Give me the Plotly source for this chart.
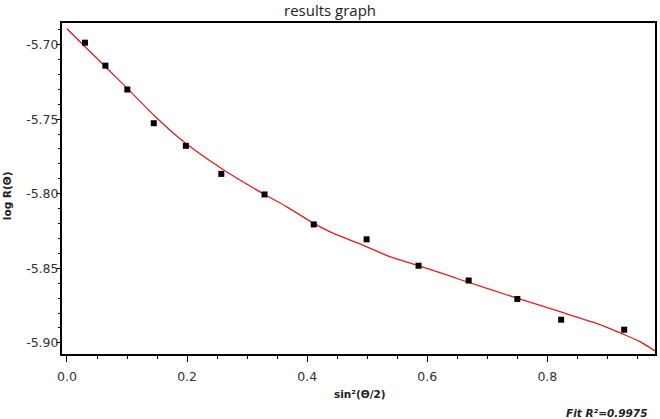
import plotly.graph_objects as go

# measured data points
x_data = [0.030, 0.064, 0.1005, 0.1445, 0.198, 0.257, 0.329, 0.411, 0.499, 0.5855, 0.669, 0.750, 0.823, 0.928]
y_data = [-5.6987, -5.7141, -5.7301, -5.7527, -5.7679, -5.7867, -5.8005, -5.8206, -5.8306, -5.8483,
          -5.8582, -5.8706, -5.8845, -5.8912]

# fitted curve
x_fit = [0.000, 0.0305, 0.0643, 0.1009, 0.1448, 0.1914, 0.2573, 0.3289, 0.3662, 0.4111, 0.4383, 0.4716,
         0.4937, 0.5353, 0.5853, 0.6325, 0.6519, 0.7496, 0.8211, 0.8544, 0.8822, 0.9098, 0.9265, 0.9543, 0.9793]
y_fit = [-5.6893, -5.7016, -5.7150, -5.7295, -5.7474, -5.7642, -5.7831, -5.8005, -5.8088, -5.8199, -5.8256,
         -5.8311, -5.8346, -5.8418, -5.8483, -5.8545, -5.8572, -5.8701, -5.8791, -5.8835, -5.8869, -5.8914,
         -5.8942, -5.8992, -5.9054]

x_ticks = [0.0, 0.2, 0.4, 0.6, 0.8]
x_tick_text = ["0.0", "0.2", "0.4", "0.6", "0.8"]
y_ticks = [-5.70, -5.75, -5.80, -5.85, -5.90]
y_tick_text = ["-5.70", "-5.75", "-5.80", "-5.85", "-5.90"]

title_text = "results graph"
x_label = "sin²(Θ/2)"
y_label = "log R(Θ)"
fit_text = "Fit R²=0.9975"

fig = go.Figure()
fig.add_trace(go.Scatter(x=x_fit, y=y_fit, mode="lines",
                         line=dict(color="#e01e1e", width=1.3, shape="spline", smoothing=0.6),
                         showlegend=False, hoverinfo="skip"))
fig.add_trace(go.Scatter(x=x_data, y=y_data, mode="markers",
                         marker=dict(symbol="square", size=6, color="black"), showlegend=False))

tickfont = dict(family="DejaVu Sans", size=12.5, color="#333333")
labelfont = dict(family="DejaVu Sans", size=10.5, color="#222222")

fig.update_layout(
    width=660, height=419,
    margin=dict(l=62, r=5, t=23, b=65),
    paper_bgcolor="white", plot_bgcolor="white",
    xaxis=dict(range=[-0.0083, 0.9793], tickvals=x_ticks, ticktext=x_tick_text,
               ticks="outside", ticklen=6, tickwidth=1.2, tickcolor="black",
               showgrid=False, zeroline=False, showline=True, linecolor="black", linewidth=2,
               mirror=True, tickfont=tickfont, automargin=False, ticklabelstandoff=4,
               minor=dict(dtick=0.05, tick0=0, ticks="outside", ticklen=3, tickcolor="black", tickwidth=1)),
    yaxis=dict(range=[-5.9075, -5.6855], tickvals=y_ticks, ticktext=y_tick_text,
               ticks="outside", ticklen=4, tickwidth=1.2, tickcolor="black",
               showgrid=False, zeroline=False, showline=True, linecolor="black", linewidth=2,
               mirror=True, tickfont=tickfont, automargin=False, ticklabelstandoff=-5,
               minor=dict(dtick=0.01, tick0=-5.70, ticks="outside", ticklen=2.5, tickcolor="black", tickwidth=1)),
    annotations=[
        dict(text=title_text, xref="paper", yref="paper", x=0.452, y=1.0405, showarrow=False,
             xanchor="center", yanchor="middle",
             font=dict(family="Open Sans", size=15, color="#222222")),
        dict(text="<b>" + x_label + "</b>", xref="paper", yref="paper", x=0.5025, y=-0.121,
             showarrow=False, xanchor="center", yanchor="middle", font=labelfont),
        dict(text="<b>" + y_label + "</b>", xref="paper", yref="paper", x=-0.0927, y=0.477,
             showarrow=False, xanchor="center", yanchor="middle", textangle=-90, font=labelfont),
        dict(text="<b><i>" + fit_text + "</i></b>", xref="paper", yref="paper", x=0.99, y=-0.177,
             showarrow=False, xanchor="right", yanchor="middle", font=labelfont),
    ],
)

fig.write_html("out.html", config={"displayModeBar": False},
               post_script="document.body.style.margin='0px';document.body.style.overflow='hidden';")
